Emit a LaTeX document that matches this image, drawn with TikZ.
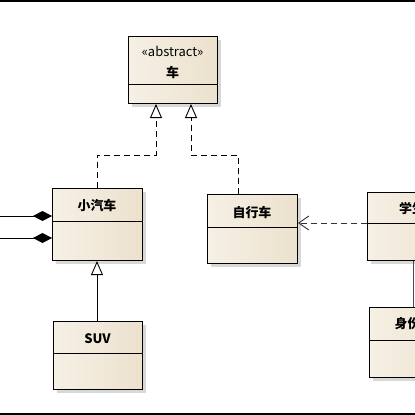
\documentclass[tikz,border=0pt]{standalone}
\usepackage{fontspec}
\newfontfamily\cjk{Noto Sans CJK SC}
\usetikzlibrary{arrows.meta,shadows}
\definecolor{boxa}{RGB}{246,240,229}
\definecolor{boxb}{RGB}{236,225,205}
\tikzset{
  cls/.style={draw=black, line width=1bp, anchor=north west, inner sep=0pt,
    left color=boxa, right color=boxb,
    drop shadow={shadow xshift=3bp, shadow yshift=-3bp, fill=gray!60, opacity=0.5}},
  ttl/.style={font=\cjk\bfseries\fontsize{13}{15}\selectfont, inner sep=0pt},
  stereo/.style={font=\cjk\fontsize{13}{15}\selectfont, inner sep=0pt},
  div/.style={line width=1bp},
  conn/.style={line width=0.9bp},
  dsh/.style={conn, dash pattern=on 6bp off 4bp},
  gen/.style={-{Triangle[open, length=14bp, width=12bp]}},
  comp/.style={-{Diamond[length=19bp, width=10bp, fill=black]}},
  dep/.style={-{Straight Barb[length=10bp, width=14bp, line width=0.9bp]}},
  frame/.style={line width=1.6bp}
}
\begin{document}
\begin{tikzpicture}[x=1bp, y=-1bp]
\useasboundingbox (0,0) rectangle (415,415);
\clip (0,0) rectangle (415,415);
% frame lines
\draw[frame] (0,1) -- (415,1);
\draw[frame] (0,414) -- (415,414);
% classes
\node[cls, minimum width=89bp, minimum height=67bp] (car) at (128,36) {};
\draw[div] (128,84) -- (217,84);
\node[stereo] (carst) at (172.5,51) {«abstract»};
\node[ttl] (cart) at (172.5,72) {车};

\node[cls, minimum width=90bp, minimum height=72bp] (small) at (52,188) {};
\draw[div] (52,221) -- (142,221);
\node[ttl] (smallt) at (97,206) {小汽车};

\node[cls, minimum width=89bp, minimum height=68bp] (suv) at (53,321) {};
\draw[div] (53,353) -- (142,353);
\node[ttl] (suvt) at (97.5,339) {SUV};

\node[cls, minimum width=90bp, minimum height=69bp] (bike) at (207,194) {};
\draw[div] (207,227) -- (297,227);
\node[ttl] (biket) at (252,212) {自行车};

\node[cls, minimum width=90bp, minimum height=68bp] (stu) at (367,192) {};
\draw[div] (367,223) -- (457,223);
\node[ttl] (stut) at (412,208) {学生};

\node[cls, minimum width=90bp, minimum height=70bp] (id) at (369,307) {};
\draw[div] (369,340) -- (459,340);
\node[ttl] (idt) at (414,324) {身份证};

% generalizations
\draw[dsh, gen] (small.north -| 97,0) |- (156,155) -- (car.south -| 156,0);
\draw[dsh, gen] (bike.north -| 238,0) |- (191,155) -- (car.south -| 191,0);
\draw[conn, gen] (suv.north -| 97,0) -- (small.south -| 97,0);
% compositions
\coordinate (c1) at (0,216);
\coordinate (c2) at (0,238);
\draw[conn, comp] (c1) -- (c1 -| small.west);
\draw[conn, comp] (c2) -- (c2 -| small.west);
% dependency
\draw[dsh, dep, draw=black!80] (stu.west |- 0,223) -- (bike.east |- 0,223);
% association
\draw[conn, draw=black!70] (stu.south -| 413,0) -- (id.north -| 413,0);
\end{tikzpicture}
\end{document}
